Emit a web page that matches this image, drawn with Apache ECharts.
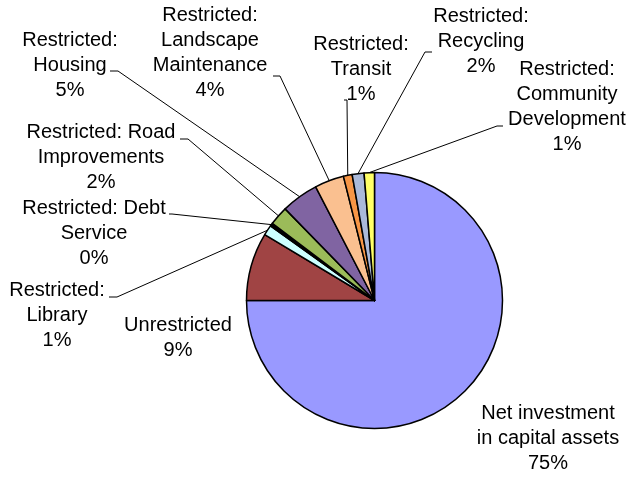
<!DOCTYPE html>
<html>
<head>
<meta charset="utf-8">
<script src="https://cdn.jsdelivr.net/npm/echarts@6/dist/echarts.min.js"></script>
<style>
  html, body { margin: 0; padding: 0; background: #fff; }
  #chart { width: 629px; height: 477px; }
</style>
</head>
<body>
<div id="chart"></div>
<script>
// Net position by component (share of total, %), clockwise from 12 o'clock
const categories = [
  'Net investment\nin capital assets',
  'Unrestricted',
  'Restricted:\nLibrary',
  'Restricted: Debt\nService',
  'Restricted: Road\nImprovements',
  'Restricted:\nHousing',
  'Restricted:\nLandscape\nMaintenance',
  'Restricted:\nTransit',
  'Restricted:\nRecycling',
  'Restricted:\nCommunity\nDevelopment'
];
const shares = [75.0, 8.6, 1.3, 0.4, 2.4, 4.7, 3.7, 1.1, 1.5, 1.3];
const sliceColors = [
  '#9999FF', '#A04444', '#CCFFFF', '#000000', '#9BBB59',
  '#8064A2', '#FAC090', '#F79646', '#AAB9D9', '#FFFF66'
];

// Label block centres and leader-line attach points (elbow, end)
const labelCenters = [
  [548, 438], [178, 338], [57, 315], [94, 233], [101, 157],
  [70, 65], [210, 53], [361, 69], [481, 41], [567, 107]
];
const leaderElbows = [
  null, null, [117, 297], [172, 214], [188, 139],
  [118, 71], [280, 76], [347, 100], [425, 52], [497, 126]
];
const leaderEnds = [
  null, null, [109, 297], [169, 214], [180, 139],
  [110, 71], [273, 76], [344, 100], [432, 52], [503, 126]
];

const chart = echarts.init(document.getElementById('chart'), null, { renderer: 'canvas' });

const seriesData = categories.map(function (name, i) {
  const item = {
    name: name,
    value: shares[i],
    itemStyle: { color: sliceColors[i] }
  };
  if (!leaderEnds[i]) {
    item.labelLine = { show: false };
  }
  return item;
});

chart.setOption({
  animation: false,
  backgroundColor: '#ffffff',
  series: [{
    type: 'pie',
    center: [374.5, 300.5],
    radius: 128,
    startAngle: 90,
    clockwise: true,
    avoidLabelOverlap: false,
    percentPrecision: 0,
    data: seriesData,
    itemStyle: { borderColor: '#000000', borderWidth: 1.5 },
    emphasis: { disabled: true },
    label: {
      show: true,
      position: 'outside',
      formatter: '{b}\n{d}%',
      color: '#000000',
      fontFamily: '"Liberation Sans", Arial, sans-serif',
      fontSize: 20,
      lineHeight: 25,
      align: 'center'
    },
    labelLine: {
      show: true,
      length: 10,
      length2: 10,
      lineStyle: { color: '#000000', width: 1 }
    },
    labelLayout: function (p) {
      const i = p.dataIndex;
      const c = labelCenters[i];
      const out = { x: c[0], y: c[1], align: 'center', verticalAlign: 'middle' };
      if (leaderEnds[i] && p.labelLinePoints) {
        out.labelLinePoints = [p.labelLinePoints[0], leaderElbows[i], leaderEnds[i]];
      }
      return out;
    }
  }]
});
</script>
</body>
</html>
